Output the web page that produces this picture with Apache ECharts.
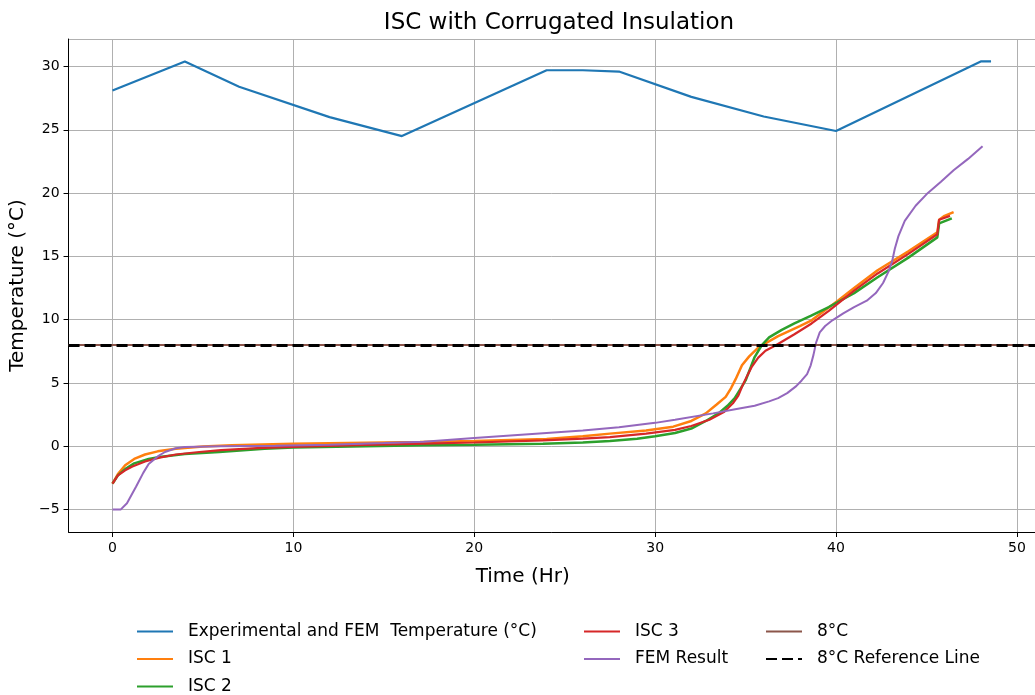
<!DOCTYPE html>
<html lang="en" style="height: 100%">
<head>
    <meta charset="UTF-8">
    <title>ISC with Corrugated Insulation</title>
    <script src="https://cdn.jsdelivr.net/npm/echarts@6/dist/echarts.min.js"></script>
</head>
<body style="height: 100%; margin: 0">
<div id="main" style="width: 1035px; height: 695px"></div>
<script>
    // time (hr), temperature (deg C) pairs
    var expTemp = [[0, 28.1], [4, 30.4], [7, 28.4], [12, 26.0], [16, 24.5], [24, 29.7], [26, 29.7],
        [26.1, 29.6], [28, 29.6], [32, 27.6], [36, 26.05], [40, 24.9], [48, 30.4], [48.57, 30.4]];

    var isc1 = [[0, -2.95], [0.3, -2.2], [0.7, -1.5], [1.2, -1.0], [1.8, -0.65], [2.5, -0.4], [3.5, -0.2],
        [5, -0.02], [6.6, 0.08], [10, 0.2], [14, 0.28], [17, 0.33], [20, 0.42], [22, 0.5], [24, 0.58],
        [26, 0.8], [27.5, 1.0], [29.5, 1.25], [31, 1.55], [32, 2.0], [32.8, 2.6], [33.4, 3.3], [33.9, 3.9],
        [34.2, 4.6], [34.45, 5.3], [34.8, 6.4], [35.2, 7.1], [35.7, 7.8], [36.8, 8.7], [38, 9.5],
        [38.65, 9.95], [40.1, 11.5], [41, 12.5], [42.3, 13.9], [44, 15.4], [45.6, 16.9], [45.7, 17.9],
        [46, 18.2], [46.5, 18.5]];

    var isc2 = [[0, -2.95], [0.3, -2.3], [0.7, -1.8], [1.2, -1.35], [2, -1.0], [2.6, -0.85], [4, -0.6],
        [5.9, -0.45], [8.4, -0.2], [10, -0.1], [14, 0.0], [17.2, 0.08], [20, 0.12], [23.8, 0.2], [26, 0.3],
        [27.5, 0.42], [29, 0.6], [30, 0.8], [31.1, 1.05], [32, 1.4], [32.8, 2.0], [33.5, 2.6], [34, 3.2],
        [34.4, 3.8], [34.7, 4.5], [35, 5.2], [35.3, 6.3], [35.5, 7.05], [35.9, 8.0], [36.3, 8.6], [37, 9.2],
        [37.7, 9.7], [38.6, 10.3], [39.6, 11.0], [41, 12.1], [42.3, 13.35], [44, 14.9], [45.6, 16.5],
        [45.7, 17.6], [46.4, 18.0]];

    var isc3 = [[0, -2.95], [0.3, -2.3], [0.7, -1.9], [1.1, -1.6], [1.8, -1.2], [2.6, -0.9], [3.5, -0.65],
        [4.8, -0.45], [6, -0.3], [8, -0.15], [9.9, -0.05], [14, 0.1], [17.2, 0.21], [20, 0.3], [23.8, 0.47],
        [26, 0.6], [27.5, 0.73], [29.5, 1.0], [31.1, 1.3], [32, 1.6], [33, 2.1], [33.8, 2.7], [34.3, 3.4],
        [34.6, 4.0], [34.8, 4.7], [35.1, 5.6], [35.35, 6.3], [35.7, 7.0], [36.1, 7.55], [36.7, 8.0],
        [37.7, 8.85], [38.65, 9.7], [39.6, 10.7], [41, 12.3], [42.3, 13.65], [44, 15.2], [45.6, 16.75],
        [45.7, 17.9], [46.3, 18.2]];

    var femResult = [[0, -5], [0.45, -5], [0.8, -4.5], [1.3, -3.2], [1.7, -2.1], [2.0, -1.4], [2.5, -0.8],
        [2.9, -0.45], [3.5, -0.15], [4, -0.05], [6, 0.0], [9, 0.05], [12, 0.12], [15, 0.25], [17.2, 0.36],
        [20, 0.65], [22, 0.85], [24, 1.05], [26, 1.25], [28, 1.5], [30, 1.85], [31.1, 2.1], [33.2, 2.6],
        [34.5, 2.95], [35.5, 3.2], [36.3, 3.55], [36.8, 3.8], [37.3, 4.2], [37.8, 4.75], [38.1, 5.2],
        [38.4, 5.7], [38.6, 6.4], [38.75, 7.2], [38.9, 8.2], [39.1, 9.0], [39.4, 9.5], [39.8, 9.95],
        [40.4, 10.5], [41, 11.0], [41.7, 11.5], [42.2, 12.1], [42.6, 12.9], [42.9, 13.8], [43.1, 14.6],
        [43.25, 15.6], [43.45, 16.6], [43.8, 17.8], [44.4, 19.0], [45, 19.9], [45.8, 20.9], [46.5, 21.8],
        [47.3, 22.7], [48.1, 23.7]];

    var refTemp = 8;
    var xRange = [-2.43, 51.0];
    var yRange = [-6.77, 32.17];

    var legendCols = [
        ['Experimental and FEM  Temperature (°C)', 'ISC 1', 'ISC 2'],
        ['ISC 3', 'FEM Result'],
        ['8°C', '8°C Reference Line']
    ];

    function lineSeries(name, data, color, width) {
        return {
            name: name,
            type: 'line',
            data: data,
            symbol: 'none',
            smooth: false,
            lineStyle: {color: color, width: width},
            itemStyle: {color: color}
        };
    }

    var font = 'DejaVu Sans';
    var legendLeft = [136, 583, 765];
    var legends = legendCols.map(function (names, i) {
        return {
            data: names,
            orient: 'vertical',
            left: legendLeft[i],
            top: 623,
            height: 72,
            padding: 0,
            itemWidth: 36,
            itemHeight: 14,
            itemGap: 10.5,
            itemStyle: {opacity: 0},
            textStyle: {fontFamily: font, fontSize: 17, lineHeight: 16, color: '#000', padding: [0, 0, 0, 10]},
            selectedMode: false
        };
    });

    var myoption = {
        animation: false,
        backgroundColor: '#fff',
        title: {
            text: 'ISC with Corrugated Insulation',
            left: 554,
            textAlign: 'center',
            top: 7,
            textStyle: {fontFamily: font, fontSize: 23, fontWeight: 'normal', color: '#000'}
        },
        legend: legends,
        grid: {left: 68, top: 39, width: 972, height: 493, containLabel: false},
        xAxis: {
            type: 'value',
            min: xRange[0],
            max: xRange[1],
            splitNumber: 5,
            minInterval: 10,
            maxInterval: 10,
            name: 'Time (Hr)',
            nameLocation: 'middle',
            nameGap: 35,
            nameTextStyle: {fontFamily: font, fontSize: 20, color: '#000', padding: [0, 58, 0, 0]},
            axisLine: {show: true, onZero: false, lineStyle: {color: '#000', width: 1}},
            axisTick: {show: true, length: 5, lineStyle: {color: '#000'}},
            axisLabel: {fontFamily: font, fontSize: 14, color: '#000', margin: 9,
                showMinLabel: false, showMaxLabel: false},
            splitLine: {show: true, lineStyle: {color: '#b0b0b0', width: 1}}
        },
        yAxis: {
            type: 'value',
            min: yRange[0],
            max: yRange[1],
            splitNumber: 8,
            minInterval: 5,
            maxInterval: 5,
            name: 'Temperature (°C)',
            nameLocation: 'middle',
            nameGap: 33,
            nameTextStyle: {fontFamily: font, fontSize: 20, color: '#000'},
            axisLine: {show: true, onZero: false, lineStyle: {color: '#000', width: 1}},
            axisTick: {show: true, length: 5, lineStyle: {color: '#000'}},
            axisLabel: {fontFamily: font, fontSize: 14, color: '#000', margin: 9,
                showMinLabel: false, showMaxLabel: false,
                formatter: function (v) { return v < 0 ? '\u2212' + Math.abs(v) : String(v); }},
            splitLine: {show: true, lineStyle: {color: '#b0b0b0', width: 1}}
        },
        series: [
            lineSeries('Experimental and FEM  Temperature (°C)', expTemp, '#1f77b4', 2.2),
            lineSeries('ISC 1', isc1, '#ff7f0e', 2.5),
            lineSeries('ISC 2', isc2, '#2ca02c', 2.5),
            lineSeries('ISC 3', isc3, '#d62728', 2.2),
            lineSeries('FEM Result', femResult, '#9467bd', 2),
            {
                name: '8°C',
                type: 'line',
                data: [],
                symbol: 'none',
                lineStyle: {color: '#8c564b', width: 2},
                itemStyle: {color: '#8c564b'},
                markLine: {
                    silent: true,
                    symbol: ['none', 'none'],
                    label: {show: false},
                    lineStyle: {color: '#8c564b', width: 2, type: 'solid'},
                    data: [{yAxis: refTemp}]
                }
            },
            {
                name: '8°C Reference Line',
                type: 'line',
                data: [],
                symbol: 'none',
                lineStyle: {color: '#000', width: 3, type: [11, 5]},
                itemStyle: {color: '#000'},
                markLine: {
                    silent: true,
                    symbol: ['none', 'none'],
                    label: {show: false},
                    lineStyle: {color: '#000', width: 3, type: [11, 5]},
                    data: [{yAxis: refTemp}]
                }
            }
        ]
    };
    var myChart = echarts.init(document.getElementById('main'));
    myChart.setOption(myoption);
</script>
</body>
</html>
